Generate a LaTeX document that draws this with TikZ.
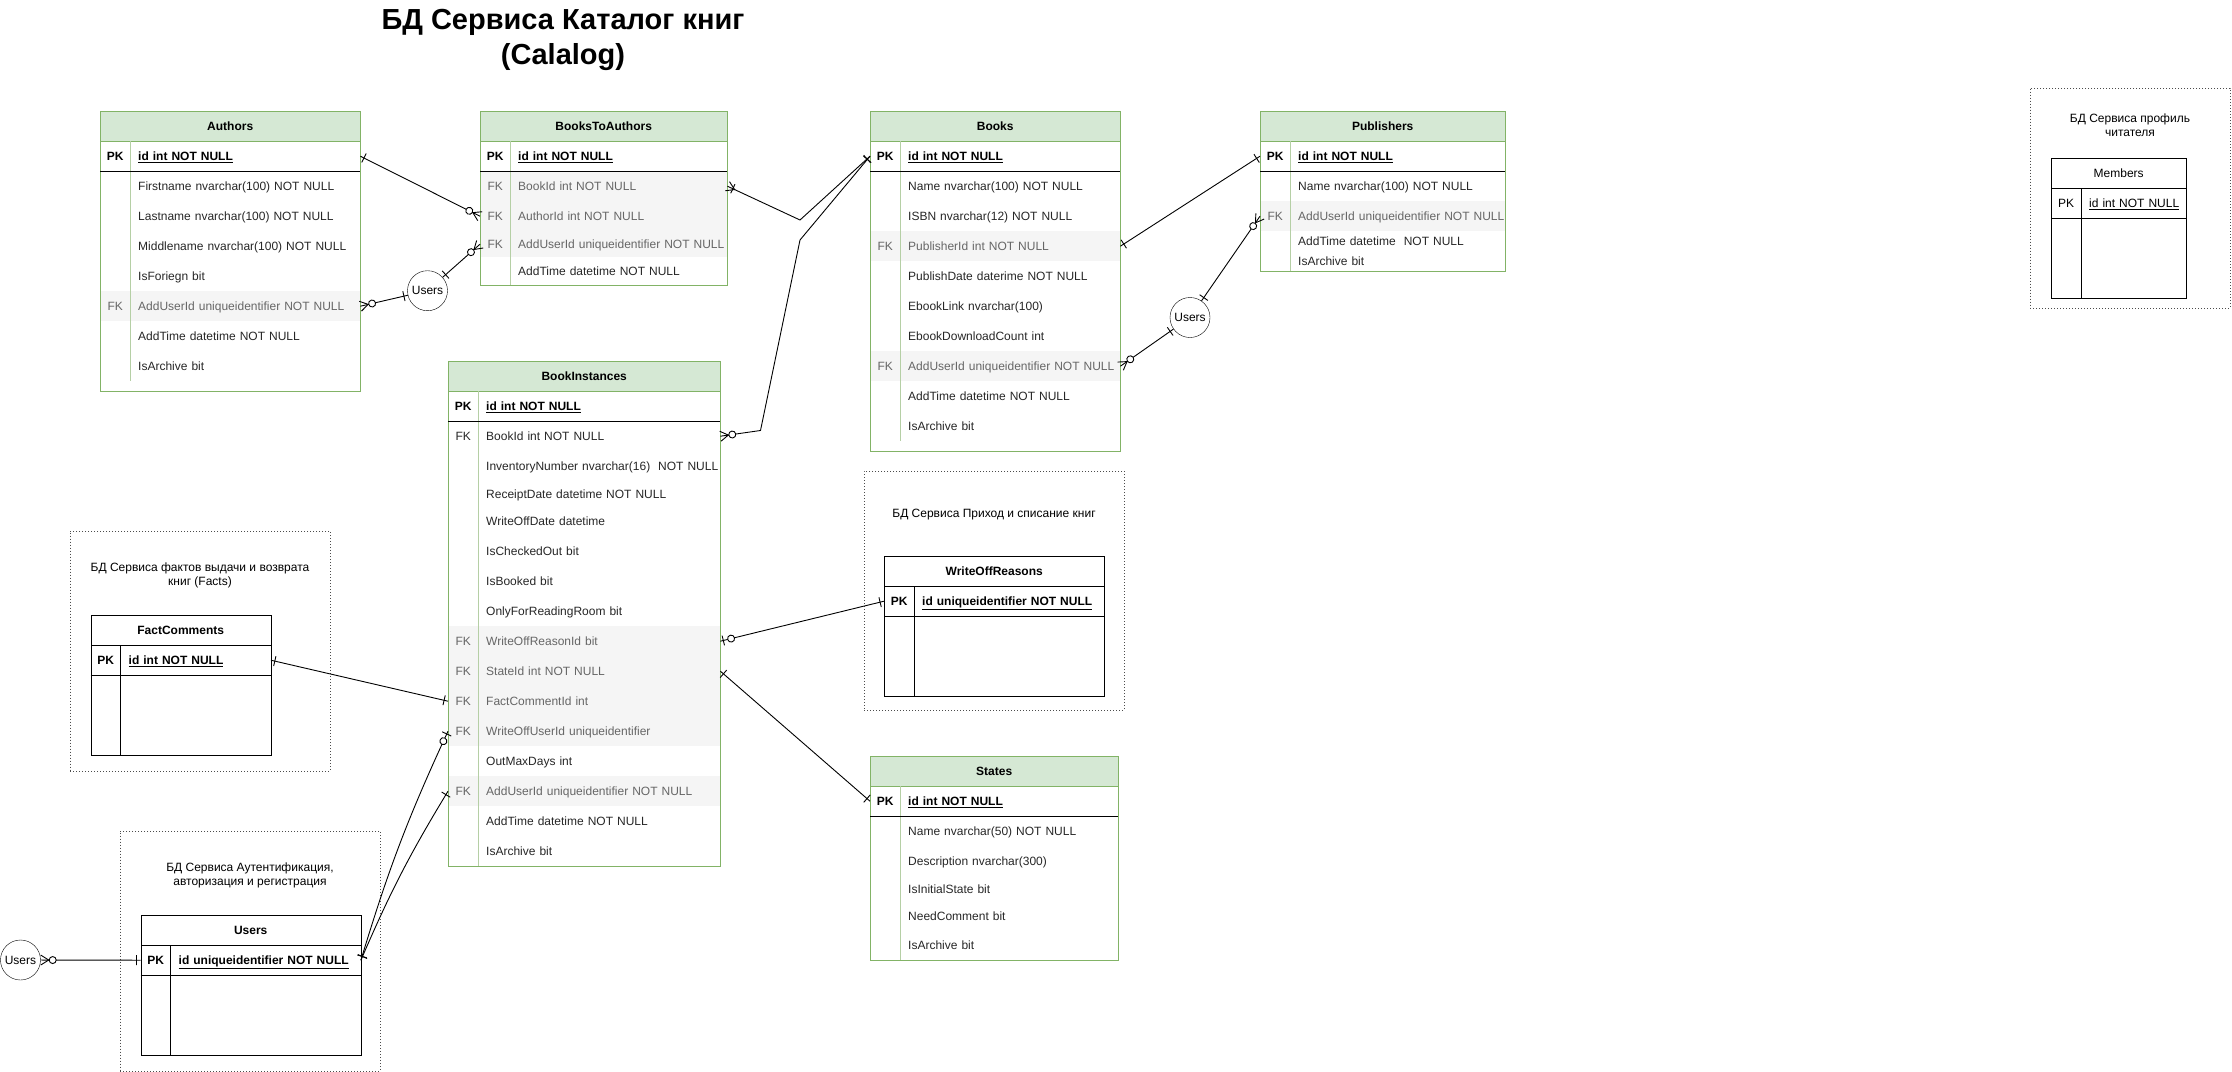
\documentclass[tikz,border=0pt]{standalone}
\usepackage{fontspec}
\setmainfont{Liberation Sans}
\usepackage{tikz}
\usepackage{xcolor}
\usetikzlibrary{positioning}
\usetikzlibrary{decorations.markings}

\definecolor{hdrgreen}{HTML}{D5E8D4}
\definecolor{bordgreen}{HTML}{82B366}
\definecolor{divgreen}{HTML}{B5CFA5}
\definecolor{fkgrey}{HTML}{F5F5F5}
\definecolor{fktext}{HTML}{666666}
\definecolor{rowtext}{HTML}{262626}

\newcommand{\kc}[2]{\noindent\makebox[30pt]{#1}\hspace{8pt}\mbox{#2}}

\tikzset{
  hdr/.style={anchor=north west, inner sep=0pt, minimum width=#1, minimum height=30pt, draw=bordgreen, fill=hdrgreen, font=\fontsize{12}{14}\selectfont\bfseries},
  hdrb/.style={hdr=#1, draw=black, fill=white},
  erow/.style={anchor=north west, inner sep=0pt, text width=#1, minimum height=30pt, text height=9.5pt, text depth=0.9pt, align=left, font=\fontsize{12}{14}\selectfont, text=rowtext},
  fkerow/.style={erow=#1, fill=fkgrey, text=fktext},
  pkerow/.style={erow=#1, text=black, font=\fontsize{12}{14}\selectfont\bfseries},
  tbl/.style={anchor=north west, inner sep=0pt, draw=bordgreen, line width=1pt},
  tblb/.style={tbl, draw=black},
  divl/.style={divgreen, line width=0.8pt},
  pkline/.style={black, line width=1.2pt},
  grpbox/.style={anchor=north west, inner sep=0pt, draw=black!70, dash pattern=on 1pt off 2pt},
  grptxt/.style={align=center, font=\fontsize{12}{14}\selectfont},
  ucirc/.style={circle, draw, inner sep=0pt, minimum size=40pt, font=\fontsize{12}{14}\selectfont},
  rel/.style={draw, line width=0.9pt},
  one st/.style={postaction={decorate, decoration={markings, mark=at position 0 with {\draw (4,-5) -- (4,5);}}}},
  one en/.style={postaction={decorate, decoration={markings, mark=at position 1 with {\draw (-4,-5) -- (-4,5);}}}},
  zmany st/.style={postaction={decorate, decoration={markings, mark=at position 0 with {\draw (0,-5) -- (8,0) -- (0,5); \draw[fill=white] (12,0) circle[radius=3.5pt];}}}},
  zmany en/.style={postaction={decorate, decoration={markings, mark=at position 1 with {\draw (0,-5) -- (-8,0) -- (0,5); \draw[fill=white] (-12,0) circle[radius=3.5pt];}}}},
  zone st/.style={postaction={decorate, decoration={markings, mark=at position 0 with {\draw (3,-5) -- (3,5); \draw[fill=white] (11,0) circle[radius=3.5pt];}}}},
  zone en/.style={postaction={decorate, decoration={markings, mark=at position 1 with {\draw (-3,-5) -- (-3,5); \draw[fill=white] (-11,0) circle[radius=3.5pt];}}}},
  omany st/.style={postaction={decorate, decoration={markings, mark=at position 0 with {\draw (0,-5) -- (8,0) -- (0,5); \draw (6,-5) -- (6,5);}}}}
}

\begin{document}
\begin{tikzpicture}[x=1pt, y=-1pt]
	\useasboundingbox (0,0) rectangle (2232,1071);
	
	\node[font=\fontsize{29}{35}\selectfont\bfseries, align=center] (title) at (563,40) {БД Сервиса Каталог книг\\(Calalog)};
	
	% Authors
	\node[hdr=260pt] (au-h) at (100,111) {Authors};
	\node[pkerow=260pt] (au-id) at (100,141) {\kc{PK}{\underline{id int NOT NULL}}};
	\node[erow=260pt] (au-first) at (100,171) {\kc{}{Firstname nvarchar(100) NOT NULL}};
	\node[erow=260pt] (au-last) at (100,201) {\kc{}{Lastname nvarchar(100) NOT NULL}};
	\node[erow=260pt] (au-mid) at (100,231) {\kc{}{Middlename nvarchar(100) NOT NULL}};
	\node[erow=260pt] (au-for) at (100,261) {\kc{}{IsForiegn bit}};
	\node[fkerow=260pt] (au-add) at (100,291) {\kc{FK}{AddUserId uniqueidentifier NOT NULL}};
	\node[erow=260pt] (au-time) at (100,321) {\kc{}{AddTime datetime NOT NULL}};
	\node[erow=260pt] (au-arch) at (100,351) {\kc{}{IsArchive bit}};
	\node[tbl, minimum width=260pt, minimum height=280pt] (au) at (100,111) {};
	\draw[divl] ([xshift=30pt]au-id.north west) -- ([xshift=30pt]au-arch.south west);
	\draw[pkline] (au-id.south west) -- (au-id.south east);
	
	% BooksToAuthors
	\node[hdr=247pt] (bta-h) at (480,111) {BooksToAuthors};
	\node[pkerow=247pt] (bta-id) at (480,141) {\kc{PK}{\underline{id int NOT NULL}}};
	\node[fkerow=247pt] (bta-book) at (480,171) {\kc{FK}{BookId int NOT NULL}};
	\node[fkerow=247pt] (bta-auth) at (480,201) {\kc{FK}{AuthorId int NOT NULL}};
	\node[fkerow=247pt, minimum height=26pt] (bta-add) at (480,231) {\kc{FK}{AddUserId uniqueidentifier NOT NULL}};
	\node[erow=247pt, minimum height=28pt] (bta-time) at (480,257) {\kc{}{AddTime datetime NOT NULL}};
	\node[tbl, minimum width=247pt, minimum height=174pt] (bta) at (480,111) {};
	\draw[divl] ([xshift=30pt]bta-id.north west) -- ([xshift=30pt]bta-time.south west);
	\draw[pkline] (bta-id.south west) -- (bta-id.south east);
	
	% Books
	\node[hdr=250pt] (bk-h) at (870,111) {Books};
	\node[pkerow=250pt] (bk-id) at (870,141) {\kc{PK}{\underline{id int NOT NULL}}};
	\node[erow=250pt] (bk-name) at (870,171) {\kc{}{Name nvarchar(100) NOT NULL}};
	\node[erow=250pt] (bk-isbn) at (870,201) {\kc{}{ISBN nvarchar(12) NOT NULL}};
	\node[fkerow=250pt] (bk-pub) at (870,231) {\kc{FK}{PublisherId int NOT NULL}};
	\node[erow=250pt] (bk-date) at (870,261) {\kc{}{PublishDate daterime NOT NULL}};
	\node[erow=250pt] (bk-link) at (870,291) {\kc{}{EbookLink nvarchar(100)}};
	\node[erow=250pt] (bk-cnt) at (870,321) {\kc{}{EbookDownloadCount int}};
	\node[fkerow=250pt] (bk-add) at (870,351) {\kc{FK}{AddUserId uniqueidentifier NOT NULL}};
	\node[erow=250pt] (bk-time) at (870,381) {\kc{}{AddTime datetime NOT NULL}};
	\node[erow=250pt] (bk-arch) at (870,411) {\kc{}{IsArchive bit}};
	\node[tbl, minimum width=250pt, minimum height=340pt] (bk) at (870,111) {};
	\draw[divl] ([xshift=30pt]bk-id.north west) -- ([xshift=30pt]bk-arch.south west);
	\draw[pkline] (bk-id.south west) -- (bk-id.south east);
	
	% Publishers
	\node[hdr=245pt] (pub-h) at (1260,111) {Publishers};
	\node[pkerow=245pt] (pub-id) at (1260,141) {\kc{PK}{\underline{id int NOT NULL}}};
	\node[erow=245pt] (pub-name) at (1260,171) {\kc{}{Name nvarchar(100) NOT NULL}};
	\node[fkerow=245pt] (pub-add) at (1260,201) {\kc{FK}{AddUserId uniqueidentifier NOT NULL}};
	\node[erow=245pt, minimum height=20pt] (pub-time) at (1260,231) {\kc{}{AddTime datetime~ NOT NULL}};
	\node[erow=245pt, minimum height=20pt] (pub-arch) at (1260,251) {\kc{}{IsArchive bit}};
	\node[tbl, minimum width=245pt, minimum height=160pt] (pub) at (1260,111) {};
	\draw[divl] ([xshift=30pt]pub-id.north west) -- ([xshift=30pt]pub-arch.south west);
	\draw[pkline] (pub-id.south west) -- (pub-id.south east);
	
	% BookInstances
	\node[hdr=272pt] (bi-h) at (448,361) {BookInstances};
	\node[pkerow=272pt] (bi-id) at (448,391) {\kc{PK}{\underline{id int NOT NULL}}};
	\node[erow=272pt] (bi-book) at (448,421) {\kc{FK}{BookId int NOT NULL}};
	\node[erow=272pt] (bi-inv) at (448,451) {\kc{}{InventoryNumber nvarchar(16)~ NOT NULL}};
	\node[erow=272pt, minimum height=25pt] (bi-rec) at (448,481) {\kc{}{ReceiptDate datetime NOT NULL}};
	\node[erow=272pt] (bi-wod) at (448,506) {\kc{}{WriteOffDate datetime}};
	\node[erow=272pt] (bi-chk) at (448,536) {\kc{}{IsCheckedOut bit}};
	\node[erow=272pt] (bi-bkd) at (448,566) {\kc{}{IsBooked bit}};
	\node[erow=272pt] (bi-room) at (448,596) {\kc{}{OnlyForReadingRoom bit}};
	\node[fkerow=272pt] (bi-wor) at (448,626) {\kc{FK}{WriteOffReasonId bit}};
	\node[fkerow=272pt] (bi-state) at (448,656) {\kc{FK}{StateId int NOT NULL}};
	\node[fkerow=272pt] (bi-fc) at (448,686) {\kc{FK}{FactCommentId int}};
	\node[fkerow=272pt] (bi-wou) at (448,716) {\kc{FK}{WriteOffUserId uniqueidentifier}};
	\node[erow=272pt] (bi-max) at (448,746) {\kc{}{OutMaxDays int}};
	\node[fkerow=272pt] (bi-add) at (448,776) {\kc{FK}{AddUserId uniqueidentifier NOT NULL}};
	\node[erow=272pt] (bi-time) at (448,806) {\kc{}{AddTime datetime NOT NULL}};
	\node[erow=272pt] (bi-arch) at (448,836) {\kc{}{IsArchive bit}};
	\node[tbl, minimum width=272pt, minimum height=505pt] (bi) at (448,361) {};
	\draw[divl] ([xshift=30pt]bi-id.north west) -- ([xshift=30pt]bi-arch.south west);
	\draw[pkline] (bi-id.south west) -- (bi-id.south east);
	
	% States
	\node[hdr=248pt] (st-h) at (870,756) {States};
	\node[pkerow=248pt] (st-id) at (870,786) {\kc{PK}{\underline{id int NOT NULL}}};
	\node[erow=248pt] (st-name) at (870,816) {\kc{}{Name nvarchar(50) NOT NULL}};
	\node[erow=248pt, minimum height=29pt] (st-desc) at (870,846) {\kc{}{Description nvarchar(300)}};
	\node[erow=248pt, minimum height=27pt] (st-init) at (870,875) {\kc{}{IsInitialState bit}};
	\node[erow=248pt, minimum height=28pt] (st-need) at (870,902) {\kc{}{NeedComment bit}};
	\node[erow=248pt] (st-arch) at (870,930) {\kc{}{IsArchive bit}};
	\node[tbl, minimum width=248pt, minimum height=204pt] (st) at (870,756) {};
	\draw[divl] ([xshift=30pt]st-id.north west) -- ([xshift=30pt]st-arch.south west);
	\draw[pkline] (st-id.south west) -- (st-id.south east);
	
	% other services
	\node[grpbox, minimum width=260pt, minimum height=239pt] (g-wo) at (864,471) {};
	\node[grptxt] (g-wo-t) at (994,515) {БД Сервиса Приход и списание книг};
	\node[hdrb=220pt] (wor-h) at (884,556) {WriteOffReasons};
	\node[pkerow=220pt] (wor-id) at (884,586) {\kc{PK}{\underline{id uniqueidentifier NOT NULL}}};
	\node[tblb, minimum width=220pt, minimum height=140pt] (wor) at (884,556) {};
	\draw[black, line width=1pt] ([xshift=30pt]wor-id.north west) -- ([xshift=30pt]wor.south west);
	\draw[pkline] (wor-id.south west) -- (wor-id.south east);
	
	\node[grpbox, minimum width=260pt, minimum height=240pt] (g-facts) at (70,530.5) {};
	\node[grptxt] (g-facts-t) at (200,575) {БД Сервиса фактов выдачи и возврата\\книг (Facts)};
	\node[hdrb=180pt] (fc-h) at (90.5,615) {FactComments};
	\node[pkerow=180pt] (fc-id) at (90.5,645) {\kc{PK}{\underline{id int NOT NULL}}};
	\node[tblb, minimum width=180pt, minimum height=140pt] (fc) at (90.5,615) {};
	\draw[black, line width=1pt] ([xshift=30pt]fc-id.north west) -- ([xshift=30pt]fc.south west);
	\draw[pkline] (fc-id.south west) -- (fc-id.south east);
	
	\node[grpbox, minimum width=260pt, minimum height=240pt] (g-auth) at (120,830.5) {};
	\node[grptxt] (g-auth-t) at (250,875) {БД Сервиса Аутентификация,\\авторизация и регистрация};
	\node[hdrb=220pt] (usr-h) at (140.5,915) {Users};
	\node[pkerow=220pt] (usr-id) at (140.5,945) {\kc{PK}{\underline{id uniqueidentifier NOT NULL}}};
	\node[tblb, minimum width=220pt, minimum height=140pt] (usr) at (140.5,915) {};
	\draw[black, line width=1pt] ([xshift=30pt]usr-id.north west) -- ([xshift=30pt]usr.south west);
	\draw[pkline] (usr-id.south west) -- (usr-id.south east);
	
	\node[grpbox, minimum width=200pt, minimum height=220pt] (g-prof) at (2030,87.5) {};
	\node[grptxt] (g-prof-t) at (2130,125) {БД Сервиса профиль\\читателя};
	\node[hdrb=135pt, font=\fontsize{12}{14}\selectfont] (mem-h) at (2051,158) {Members};
	\node[pkerow=135pt, font=\fontsize{12}{14}\selectfont] (mem-id) at (2051,188) {\kc{PK}{\underline{id int NOT NULL}}};
	\node[tblb, minimum width=135pt, minimum height=140pt] (mem) at (2051,158) {};
	\draw[black, line width=1pt] ([xshift=30pt]mem-id.north west) -- ([xshift=30pt]mem.south west);
	\draw[pkline] (mem-id.south west) -- (mem-id.south east);
	
	% Users circles
	\node[ucirc] (u1) at (427.5,290.7) {Users};
	\node[ucirc] (u2) at (1190,317.5) {Users};
	\node[ucirc] (u3) at (20.5,960) {Users};
	
	\coordinate (bk-j1) at (800,220);
	\coordinate (bk-j2) at (760.5,430.5);
	\coordinate (bk-j3) at (800,240);
	
	% relations
	\draw[rel, one st, zmany en] (au-id.east) -- (bta-auth.west);
	\draw[rel, one st, zmany en] (u1) -- (au-add.east);
	\draw[rel, one st, zmany en] (u1) -- (bta-add.west);
	\draw[rel, omany st, one en] (bta-book.east) -- (bk-j1) -- (bk-id.west);
	\draw[rel, zmany st, one en] (bi-book.east) -- (bk-j2) -- (bk-j3) -- (bk-id.west);
	\draw[rel, one st, one en] (bk-pub.east) -- (pub-id.west);
	\draw[rel, one st, zmany en] (u2) -- (bk-add.east);
	\draw[rel, one st, zmany en] (u2) -- (pub-add.west);
	\draw[rel, zone st, one en] (bi-wor.east) -- (wor-id.west);
	\draw[rel, one st, one en] (bi-state.east) -- (st-id.west);
	\draw[rel, one st, one en] (fc-id.east) -- (bi-fc.west);
	\draw[rel, one st, zone en] (usr-id.east) to[bend left=4] (bi-wou.west);
	\draw[rel, one st, one en] (usr-id.east) to[bend left=4] (bi-add.west);
	\draw[rel, zmany st, one en] (u3) -- (usr-id.west);
\end{tikzpicture}
\end{document}
